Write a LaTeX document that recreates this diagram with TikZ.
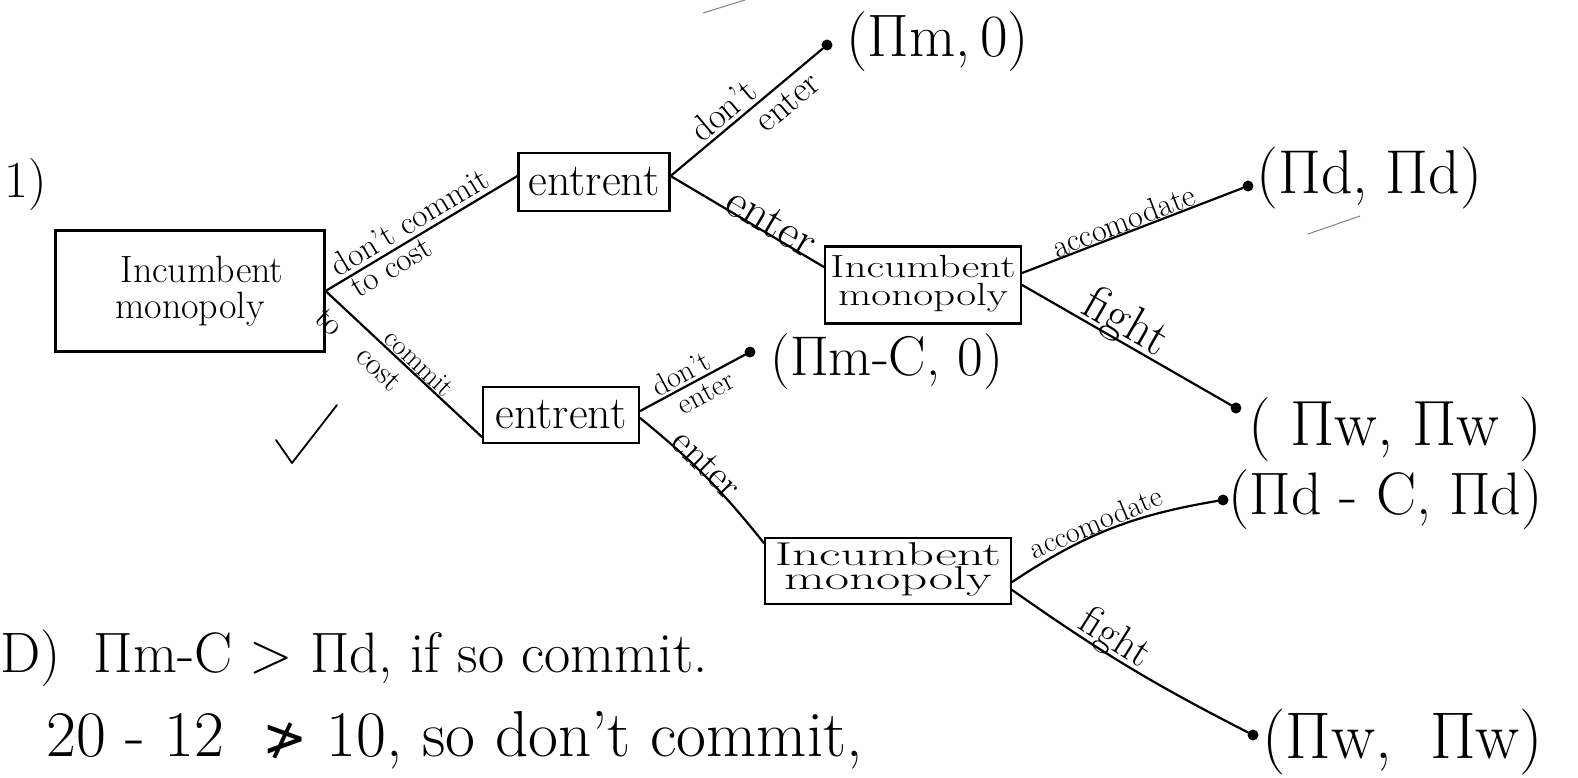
\documentclass[tikz,border=0pt]{standalone}
\usepackage{fontspec}
\usepackage{graphicx}
\newfontfamily\dvs{DejaVu Sans}
\newcommand\fsz[1]{\fontsize{#1}{#1}\selectfont}
\begin{document}
\begin{tikzpicture}[x=1pt,y=-1pt,
  pen/.style={line width=2.2pt, line cap=round, line join=round},
  boxnode/.style={draw, line width=2.2pt, inner sep=0pt, align=center},
  lbl/.style={sloped, inner sep=1pt},
  twoline/.style={sloped, inner sep=0pt, align=left},
  dotnode/.style={circle, fill, inner sep=0pt, minimum size=11pt},
  pay/.style={anchor=west, inner sep=0pt},
  stray/.style={line width=1pt, gray},
]
\useasboundingbox (0,0) rectangle (1578,778);

% boxes
\node[boxnode, minimum width=269pt, minimum height=121pt, font=\fsz{38}] (b1) at (190,291) {\hspace*{24pt}Incumbent\\[-2pt]monopoly};
\node[boxnode, minimum width=151pt, minimum height=58pt, font=\fsz{46}] (b2) at (594,182) {entrent};
\node[boxnode, minimum width=156pt, minimum height=56pt, font=\fsz{46}] (b3) at (561,415) {entrent};
\node[boxnode, minimum width=196pt, minimum height=77pt] (b4) at (923,285)
  {\scalebox{1.35}[1]{\fsz{32}\begin{tabular}{@{}c@{}}Incumbent\\[-4pt]monopoly\end{tabular}}};
\node[boxnode, minimum width=246pt, minimum height=66pt] (b5) at (888,571)
  {\scalebox{1.6}[1]{\fsz{33}\begin{tabular}{@{}c@{}}Incumbent\\[-9pt]monopoly\end{tabular}}};

% terminal dots
\node[dotnode] (t1) at (827,45) {};
\node[dotnode] (t2) at (1248,186) {};
\node[dotnode] (t3) at (1236,408) {};
\node[dotnode] (t4) at (750,352) {};
\node[dotnode] (t5) at (1223,500) {};
\node[dotnode] (t6) at (1253,735) {};

% payoffs
\node[pay, font=\fsz{60}] (p1) at (846,42) {(Πm,\,0)};
\node[pay, font=\fsz{62}] (p2) at (1256,178) {(Πd,\;Πd)};
\node[pay, font=\fsz{64}] (p3) at (1248,430) {( Πw, Πw )};
\node[pay, font=\fsz{56}] (p4) at (770,362) {(Πm-C, 0)};
\node[pay, font=\fsz{60}] (p5) at (1228,500) {(Πd - C, Πd)};
\node[pay, font=\fsz{66}] (p6) at (1262,742) {(Πw,\; Πw)};

% edges
\draw[pen] (b1.east) -- node[twoline, pos=0.48, yshift=2pt, font=\fsz{33}] {don't commit\\[-4pt]\hspace*{6pt}to cost} ([yshift=6pt]b2.west);
\draw[pen] (b1.east) -- node[lbl, above, pos=0.55, inner sep=1pt, font=\fsz{28}] {commit}
                        node[lbl, below, pos=0.3, inner sep=9pt, font=\fsz{32}] {to\hspace{30pt}cost} ([yshift=-22pt]b3.west);
\draw[pen] ([yshift=6pt]b2.east) -- node[twoline, pos=0.55, font=\fsz{36}] {don't\\[-2pt]\hspace*{56pt}enter} (t1);
\draw[pen] ([yshift=6pt]b2.east) -- node[lbl, above, pos=0.62, inner sep=-4pt, font=\fsz{48}] {enter} ([yshift=18pt]b4.west);
\draw[pen] ([yshift=12pt]b4.east) -- node[lbl, above, pos=0.48, inner sep=0pt, font=\fsz{32}] {accomodate} (t2);
\draw[pen] (b4.east) -- node[lbl, above, pos=0.45, inner sep=-6pt, font=\fsz{50}] {fight} (t3);
\draw[pen] ([yshift=4pt]b3.east) -- node[twoline, pos=0.5, font=\fsz{30}] {don't\\[-2pt]\hspace*{14pt}enter} (t4);
\draw[pen] ([yshift=-3pt]b3.east) to[bend left=6] node[lbl, above, pos=0.45, inner sep=-4pt, font=\fsz{40}] {enter} ([yshift=28pt]b5.west);
\draw[pen] ([yshift=-11pt]b5.east) to[bend left=12] node[lbl, above, pos=0.45, inner sep=0pt, font=\fsz{30}] {accomodate} (t5);
\draw[pen] ([yshift=-19pt]b5.east) to[bend right=4] node[lbl, above, pos=0.4, inner sep=-4pt, font=\fsz{42}] {fight} (t6);

% labels and notes
\node[anchor=west, inner sep=0pt, font=\fsz{52}] (q1) at (4,185) {1)};
\node[anchor=west, inner sep=0pt, font=\fsz{57}] (q2) at (0,658) {D)\; Πm-C > Πd, if so commit.};
\node[anchor=west, inner sep=0pt, font=\fsz{65}] (q3) at (46,740) {20 - 12\; {\dvs\fsz{54}≯} 10, so don't commit,};

% check mark
\draw[pen, line width=1.8pt] (276,440) -- (292,463) -- (337,405);

% stray pen marks
\draw[stray] (703,13) -- (745,0);
\draw[stray] (1308,234) -- (1360,216);
\end{tikzpicture}
\end{document}
